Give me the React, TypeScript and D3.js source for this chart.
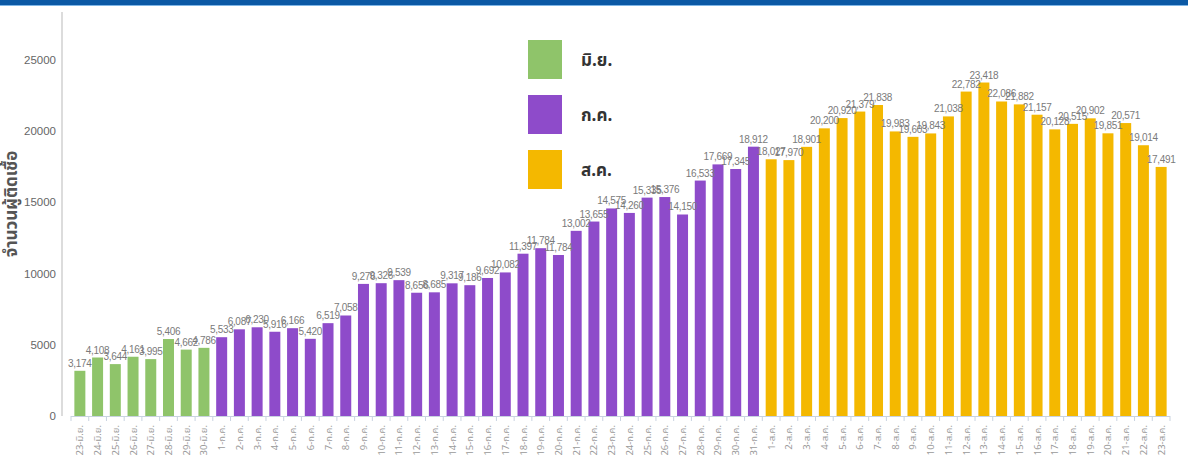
import React from "react";
import * as d3 from "d3";

const juneDays = ["23", "24", "25", "26", "27", "28", "29", "30"];
const juneValues = [3174, 4108, 3644, 4161, 3995, 5406, 4662, 4786];
const julyValues = [
  5533, 6087, 6230, 5916, 6166, 5420, 6519, 7058, 9276, 9326, 9539, 8656, 8685,
  9317, 9186, 9692, 10082, 11397, 11784, 11305, 13002, 13655, 14575, 14260,
  15335, 15376, 14150, 16533, 17669, 17345, 18912,
];
const augValues = [
  18027, 17970, 18901, 20200, 20920, 21379, 21838, 19983, 19603, 19843, 21038,
  22782, 23418, 22086, 21882, 21157, 20128, 20515, 20902, 19851, 20571, 19014,
  17491,
];
// label shown in the source differs from bar height for this day
const labelOverrides: Record<string, string> = { "20-ก.ค.": "11,784" };

const months = [
  { name: "มิ.ย.", suffix: "มิ.ย.", color: "#8fc46a" },
  { name: "ก.ค.", suffix: "ก.ค.", color: "#8e4bca" },
  { name: "ส.ค.", suffix: "ส.ค.", color: "#f4b800" },
];
const yTicks = [0, 5000, 10000, 15000, 20000, 25000];
const yLabel = "จำนวนผู้ติดเชื้อ";

type Row = { label: string; value: number; color: string };
const rows: Row[] = [
  ...juneValues.map((v, i) => ({ label: `${juneDays[i]}-${months[0].suffix}`, value: v, color: months[0].color })),
  ...julyValues.map((v, i) => ({ label: `${i + 1}-${months[1].suffix}`, value: v, color: months[1].color })),
  ...augValues.map((v, i) => ({ label: `${i + 1}-${months[2].suffix}`, value: v, color: months[2].color })),
];

const W = 1188;
const H = 462;
const thai = "'Noto Sans Thai', 'Noto Sans', 'DejaVu Sans', sans-serif";
const num = "'Liberation Sans', Arial, sans-serif";

export default function App() {
  const x = d3
    .scaleBand<string>()
    .domain(rows.map((r) => r.label))
    .range([71, 1170])
    .paddingInner(0.38)
    .paddingOuter(0.19);
  const y = d3.scaleLinear().domain([0, 28370]).range([416, 12]);
  const fmt = d3.format(",");
  const step = x.step();
  const bw = x.bandwidth();
  const tickXs = d3.range(rows.length + 1).map((i) => 71 + i * step);

  return (
    <svg width={W} height={H} style={{ position: "absolute", left: 0, top: 0 }}>
      <rect x={0} y={0} width={W} height={H} fill="#fff" />
      <rect x={0} y={0} width={W} height={5} fill="#0b59a5" />
      <rect x={0} y={5} width={W} height={1} fill="#7fb6e6" />

      {/* y axis */}
      <line x1={62} x2={62} y1={12} y2={416} stroke="#d0d0d0" strokeWidth={1.5} />
      {yTicks.map((t) => (
        <text key={t} x={56} y={y(t)} dy="0.35em" textAnchor="end" fontFamily={num} fontSize={11.5} fill="#666">
          {t}
        </text>
      ))}
      <text
        transform={`translate(17,204) rotate(-90)`}
        textAnchor="middle"
        fontFamily={thai}
        fontWeight="bold"
        fontSize={17}
        fill="#555"
      >
        {yLabel}
      </text>

      {/* bars */}
      {rows.map((r) => (
        <rect key={r.label} x={x(r.label)} y={y(r.value)} width={bw} height={416 - y(r.value)} fill={r.color} />
      ))}

      {/* x axis */}
      <line x1={71} x2={1170} y1={416.5} y2={416.5} stroke="#c9d3e0" strokeWidth={1} />
      {tickXs.map((tx, i) => (
        <line key={i} x1={tx} x2={tx} y1={416} y2={421} stroke="#c9d3e0" strokeWidth={1} />
      ))}
      {rows.map((r) => {
        const cx = (x(r.label) as number) + bw / 2;
        return (
          <text
            key={r.label}
            transform={`translate(${cx + 3.5},425) rotate(-90)`}
            textAnchor="end"
            fontFamily={thai}
            fontSize={9.5}
            fill="#9a9a9a"
          >
            {r.label}
          </text>
        );
      })}

      {/* value labels */}
      {rows.map((r) => {
        const cx = (x(r.label) as number) + bw / 2;
        return (
          <text
            key={r.label}
            x={cx}
            y={y(r.value) - 4}
            textAnchor="middle"
            fontFamily={num}
            fontSize={10}
            letterSpacing={-0.3}
            fill="#7a7a7a"
          >
            {labelOverrides[r.label] ?? fmt(r.value)}
          </text>
        );
      })}

      {/* legend */}
      {months.map((m, i) => (
        <g key={m.name} transform={`translate(528,${40 + i * 55})`}>
          <rect x={0} y={0} width={34} height={39} fill={m.color} />
          <text x={53} y={20} dy="0.35em" fontFamily={thai} fontWeight="bold" fontSize={17} fill="#333">
            {m.name}
          </text>
        </g>
      ))}
    </svg>
  );
}
